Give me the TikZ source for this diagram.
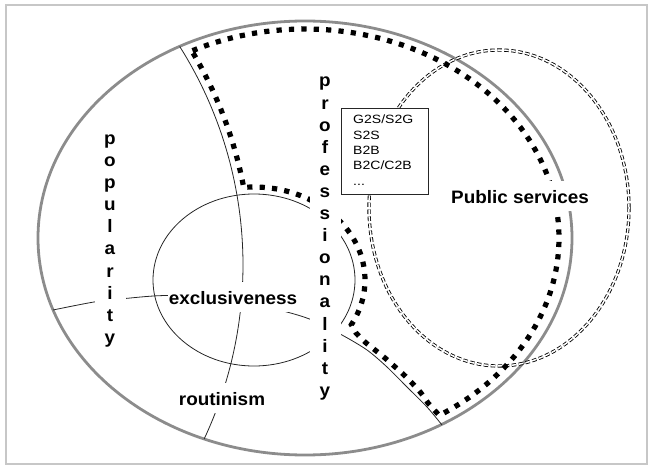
\documentclass[tikz,border=0pt]{standalone}
\usepackage{fontspec}
\usepackage{tikz}
\usetikzlibrary{calc}
\newfontfamily\labelfont{Liberation Sans}[FakeStretch=1.05]
\newfontfamily\codefont{Liberation Sans}[FakeStretch=1.17]
\definecolor{ringgray}{gray}{0.55}
\definecolor{framegray}{gray}{0.78}

\begin{document}
\begin{tikzpicture}[x=1pt,y=-1pt]
    \tikzstyle{every node}=[inner sep=0pt]
    \tikzstyle{thinline}=[draw=black!85,line width=0.8pt]
    \tikzstyle{dotline}=[draw=black,line width=5.2pt,dash pattern=on 5.2pt off 7.2pt]
    \tikzstyle{dashring}=[draw=black,line width=0.85pt,double=white,
                          double distance=1.5pt,dash pattern=on 4.5pt off 2.5pt]
    \tikzstyle{area}=[font=\labelfont\bfseries\fontsize{18}{22.1}\selectfont,
                      fill=white,inner xsep=1pt,inner ysep=8pt,
                      text height=14pt,text depth=0pt,anchor=base]
    \tikzstyle{wordcol}=[font=\labelfont\bfseries\fontsize{18}{22.1}\selectfont,
                         fill=white,text width=31pt,align=center,anchor=base]

    \useasboundingbox (0,0) rectangle (653,468);
    \draw[framegray,line width=2pt] (6,5) rectangle (647,464);

    % the whole field and the public services ring
    \draw[ringgray,line width=2.8pt] (305,238) ellipse [x radius=267pt,y radius=217pt];
    \draw[dashring] (499,208) ellipse [x radius=130pt,y radius=158pt];

    % border of the professional part
    \draw[dotline] plot[domain=-116.3:58.1,samples=90] ({305+254*cos(\x)},{238+209*sin(\x)})
        -- plot[smooth] coordinates {(428,403) (421,393) (412,383) (403,374) (394,366)
                                     (385,358) (375,350) (365,342) (356,333)}
        -- plot[domain=28.7:-95.7,samples=50] ({254+111*cos(\x)},{280+93*sin(\x)})
        -- plot[domain=-10.8:-31,samples=30] ({-166+417*cos(\x)},{265+417*sin(\x)})
        -- cycle;

    % core circle and the two dividing lines
    \draw[thinline] (254,280) ellipse [x radius=101pt,y radius=86pt];
    \draw[thinline] plot[domain=-32.3:25.2,samples=60] ({-166+409*cos(\x)},{265+409*sin(\x)});
    \draw[thinline] plot[smooth] coordinates {(53,310) (94,302) (125,298.5) (168,295.5)
        (230,299) (283,311) (312,320) (342,335) (367,350) (387,367) (407,387)
        (427,407) (442,425)};

    % list of exchanges
    \draw[thinline,fill=white] (341,108) rectangle (428,194);
    \node[font=\codefont\fontsize{12}{15.3}\selectfont,text width=70pt,align=left,
          anchor=base west] (codes) at (353,124) {G2S/S2G\\S2S\\B2B\\B2C/C2B\\...};

    \node[wordcol] (popularity) at (110,144.5) {p\\o\\p\\u\\l\\a\\r\\i\\t\\y};
    \node[wordcol] (professionality) at (325,87)
        {p\\r\\o\\f\\e\\s\\s\\i\\o\\n\\a\\l\\i\\t\\y};

    \node[area] (exclusiveness) at (233,304) {exclusiveness};
    \node[area] (routinism) at (222,405) {routinism};
    \node[area] (public) at (520,203) {Public services};
\end{tikzpicture}
\end{document}
